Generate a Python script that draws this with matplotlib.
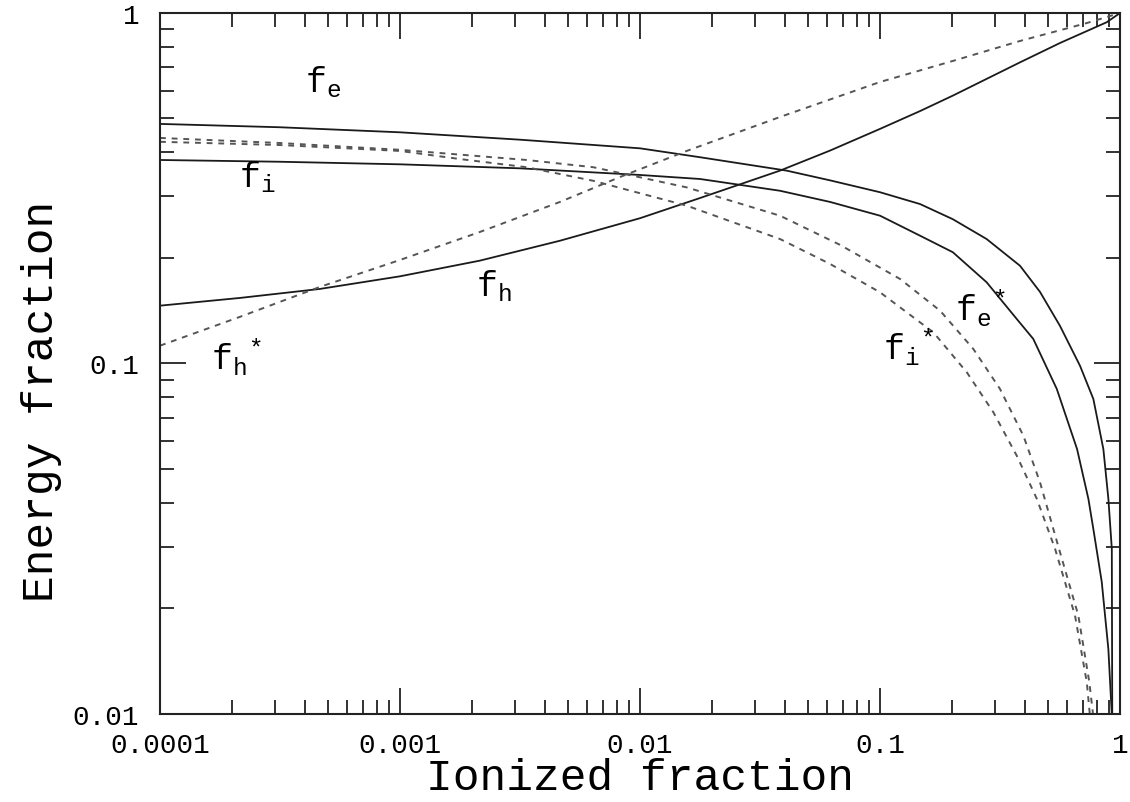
import numpy as np
import matplotlib
matplotlib.use("Agg")
import matplotlib.pyplot as plt
from matplotlib.ticker import NullFormatter, LogLocator

plt.rcParams['font.family'] = ['Liberation Mono', 'DejaVu Sans Mono']
plt.rcParams['mathtext.fontset'] = 'custom'
plt.rcParams['mathtext.rm'] = 'Liberation Mono'
plt.rcParams['mathtext.it'] = 'Liberation Mono'

# ---- data (ionized fraction vs energy fraction) ----
fe_x = [1e-4, 3.16e-4, 1e-3, 3.16e-3, 0.01, 0.0178, 0.0408, 0.0619, 0.1, 0.1468,
        0.201, 0.278, 0.383, 0.464, 0.562, 0.681, 0.774, 0.852, 0.894, 0.924, 0.928]
fe_y = [0.4825, 0.472, 0.4566, 0.435, 0.411, 0.3876, 0.355, 0.333, 0.308, 0.285,
        0.258, 0.2265, 0.190, 0.160, 0.128, 0.0985, 0.0792, 0.0570, 0.0411, 0.0296, 0.0095]

fi_x = [1e-4, 3.16e-4, 1e-3, 3.16e-3, 0.01, 0.0178, 0.0383, 0.0619, 0.1, 0.1468,
        0.201, 0.278, 0.371, 0.435, 0.545, 0.662, 0.738, 0.774, 0.839, 0.894, 0.925]
fi_y = [0.3807, 0.3763, 0.370, 0.3604, 0.345, 0.336, 0.311, 0.289, 0.264, 0.2315,
        0.2077, 0.1705, 0.134, 0.1175, 0.0846, 0.0570, 0.0411, 0.0337, 0.0238, 0.0153, 0.0098]

fh_x = [1e-4, 2.15e-4, 4.64e-4, 1e-3, 2.15e-3, 4.64e-3, 0.01, 0.0178, 0.0383, 0.0619,
        0.1, 0.1468, 0.201, 0.383, 0.562, 0.880, 1.0]
fh_y = [0.1462, 0.1538, 0.1632, 0.1773, 0.1965, 0.224, 0.2597, 0.2966, 0.355, 0.405,
        0.467, 0.525, 0.581, 0.723, 0.821, 0.941, 1.0]

fhs_x = [1e-4, 2.15e-4, 4.64e-4, 1e-3, 2.15e-3, 4.64e-3, 8.25e-3, 0.01565, 0.0383,
         0.1, 0.201, 0.383, 0.727, 1.0]
fhs_y = [0.1124, 0.1358, 0.1654, 0.1974, 0.2372, 0.289, 0.3404, 0.404, 0.505,
         0.6355, 0.7296, 0.832, 0.936, 1.0]

fes_x = [1e-4, 3.16e-4, 1e-3, 3.37e-3, 6.39e-3, 0.01565, 0.0383, 0.0681, 0.1212, 0.178,
         0.2447, 0.316, 0.3956, 0.464, 0.552, 0.670, 0.745, 0.774]
fes_y = [0.440, 0.4256, 0.407, 0.3807, 0.363, 0.318, 0.264, 0.218, 0.1742, 0.1414,
         0.110, 0.0846, 0.0622, 0.0458, 0.0302, 0.0191, 0.0123, 0.0098]

fis_x = [1e-4, 3.16e-4, 1e-3, 1.78e-3, 3.37e-3, 6.39e-3, 0.01565, 0.0383, 0.0619, 0.1,
         0.1668, 0.2298, 0.2965, 0.371, 0.45, 0.536, 0.649, 0.727, 0.75]
fis_y = [0.429, 0.42, 0.404, 0.383, 0.363, 0.332, 0.282, 0.2265, 0.1923, 0.1596,
         0.1227, 0.0944, 0.0726, 0.0546, 0.0411, 0.0296, 0.0191, 0.0123, 0.0098]

# curve labels: (text, x, y)
labels = [
    (r'$\mathrm{f_e}$', 4.02e-4, 0.599),
    (r'$\mathrm{f_i}$', 2.13e-4, 0.321),
    (r'$\mathrm{f_h}$', 2.07e-3, 0.156),
    (r'$\mathrm{f_h}^{*}$', 1.63e-4, 0.0965),
    (r'$\mathrm{f_e}^{*}$', 0.2054, 0.1325),
    (r'$\mathrm{f_i}^{*}$', 0.1029, 0.103),
]

xticks = [1e-4, 1e-3, 1e-2, 1e-1, 1]
xticklabels = ['0.0001', '0.001', '0.01', '0.1', '1']
yticks = [0.01, 0.1, 1]
yticklabels = ['0.01', '0.1', '1']

fig = plt.figure(figsize=(11.3, 8.03), dpi=100)
ax = fig.add_axes([0.1416, 0.1096, 0.8496, 0.873])

solid = dict(color='#1a1a1a', lw=1.3, ls='-')
dashed = dict(color='#555555', lw=1.4, ls=(0, (3, 3)))

ax.plot(fe_x, fe_y, **solid)
ax.plot(fi_x, fi_y, **solid)
ax.plot(fh_x, fh_y, **solid)
ax.plot(fhs_x, fhs_y, **dashed)
ax.plot(fes_x, fes_y, **dashed)
ax.plot(fis_x, fis_y, **dashed)

for txt, x, y in labels:
    ax.text(x, y, txt, fontsize=25, ha='left', va='baseline', color='black')

ax.set_xscale('log')
ax.set_yscale('log')
ax.set_xlim(1e-4, 1)
ax.set_ylim(0.01, 1)

ax.set_xticks(xticks)
ax.set_xticklabels(xticklabels)
ax.set_yticks(yticks)
ax.set_yticklabels(yticklabels)
ax.xaxis.set_minor_locator(LogLocator(base=10, subs=np.arange(2, 10)))
ax.yaxis.set_minor_locator(LogLocator(base=10, subs=np.arange(2, 10)))
ax.xaxis.set_minor_formatter(NullFormatter())
ax.yaxis.set_minor_formatter(NullFormatter())

ax.tick_params(which='both', direction='in', top=True, right=True,
               color='#222222', width=1.3, labelsize=20)
ax.tick_params(which='major', length=19)
ax.tick_params(which='minor', length=10)
ax.tick_params(axis='x', which='major', pad=13)
ax.tick_params(axis='y', which='major', pad=15)

for s in ax.spines.values():
    s.set_linewidth(1.5)
    s.set_color('#222222')

ax.set_xlabel('Ionized fraction', fontsize=32)
ax.set_ylabel('Energy fraction', fontsize=32)
ax.xaxis.set_label_coords(0.5, -0.062)
ax.yaxis.set_label_coords(-0.102, 0.448)

fig.savefig('out.png', dpi=100)
